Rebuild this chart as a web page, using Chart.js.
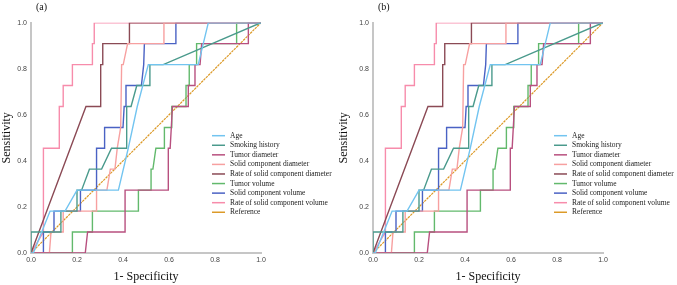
<!DOCTYPE html>
<html>
<head>
<meta charset="utf-8">
<script src="https://cdn.jsdelivr.net/npm/chart.js"></script>
<style>
  body { margin: 0; background: #fff; }
  #wrap { display: flex; width: 677px; height: 285px; }
</style>
</head>
<body>
<div id="wrap">
  <canvas id="chartA" width="337" height="285"></canvas>
  <canvas id="chartB" width="340" height="285"></canvas>
</div>
<script>
// ROC curves, 1 - specificity (x) vs sensitivity (y)
const xTicks = [0, 0.2, 0.4, 0.6, 0.8, 1.0];

const ageFpr = [0, 0.01, 0.083, 0.148, 0.2, 0.38, 0.423, 0.462, 0.51, 0.727, 0.771, 1];
const ageTpr = [0, 0, 0.182, 0.182, 0.273, 0.273, 0.455, 0.636, 0.818, 0.818, 1, 1];

const smokeFpr = [0, 0, 0.13, 0.13, 0.2, 0.2, 0.22, 0.254, 0.307, 0.35, 0.416, 0.416, 0.435, 0.46, 0.517, 0.517, 0.575, 1];
const smokeTpr = [0, 0.091, 0.091, 0.182, 0.182, 0.273, 0.273, 0.364, 0.364, 0.455, 0.455, 0.636, 0.636, 0.727, 0.727, 0.818, 0.818, 1];

const tumDiamFpr = [0, 0.236, 0.246, 0.409, 0.409, 0.597, 0.597, 0.605, 0.61, 0.615, 0.684, 0.684, 0.713, 0.713, 0.735, 0.742, 0.945, 0.945, 1];
const tumDiamTpr = [0, 0, 0.091, 0.091, 0.273, 0.273, 0.455, 0.455, 0.545, 0.636, 0.636, 0.727, 0.727, 0.818, 0.818, 0.909, 0.909, 1, 1];

const solDiamFpr = [0, 0.08, 0.087, 0.14, 0.14, 0.285, 0.285, 0.33, 0.345, 0.365, 0.375, 0.39, 0.394, 0.401, 0.42, 0.578, 0.578, 1];
const solDiamTpr = [0, 0, 0.091, 0.091, 0.182, 0.182, 0.273, 0.273, 0.364, 0.364, 0.455, 0.545, 0.818, 0.818, 0.909, 0.909, 1, 1];

const rateDiamFpr = [0, 0.239, 0.303, 0.303, 0.312, 0.312, 0.428, 0.428, 1];
const rateDiamTpr = [0, 0.636, 0.636, 0.818, 0.818, 0.909, 0.909, 1, 1];

const tumVolFpr = [0, 0.18, 0.18, 0.267, 0.267, 0.467, 0.467, 0.522, 0.522, 0.53, 0.543, 0.58, 0.58, 0.612, 0.612, 0.674, 0.674, 0.688, 0.688, 0.72, 0.72, 0.894, 0.894, 1];
const tumVolTpr = [0, 0, 0.091, 0.091, 0.182, 0.182, 0.273, 0.273, 0.364, 0.364, 0.455, 0.455, 0.545, 0.545, 0.636, 0.636, 0.727, 0.727, 0.818, 0.818, 0.909, 0.909, 1, 1];

const solVolFpr = [0, 0.054, 0.054, 0.1, 0.1, 0.215, 0.215, 0.285, 0.285, 0.32, 0.32, 0.4, 0.405, 0.413, 0.413, 0.48, 0.49, 0.493, 0.63, 0.63, 1];
const solVolTpr = [0, 0, 0.091, 0.091, 0.182, 0.182, 0.273, 0.273, 0.455, 0.455, 0.545, 0.545, 0.636, 0.636, 0.727, 0.727, 0.818, 0.909, 0.909, 1, 1];

const rateVolFpr = [0, 0.054, 0.054, 0.123, 0.123, 0.14, 0.14, 0.18, 0.18, 0.267, 0.267, 0.275, 0.275, 1];
const rateVolTpr = [0, 0.091, 0.455, 0.455, 0.636, 0.636, 0.727, 0.727, 0.818, 0.818, 0.909, 0.909, 1, 1];

const refFpr = [0, 1];
const refTpr = [0, 1];

const labels = ['Age', 'Smoking history', 'Tumor diameter', 'Solid component diameter',
  'Rate of solid component diameter', 'Tumor volume', 'Solid component volume',
  'Rate of solid component volume', 'Reference'];
const colors = ['#72c4f0', '#4a9a8c', '#b8507f', '#f7a0a0', '#8b4a55', '#62b96c', '#4a62c4', '#f78cab', '#dc9a28'];
const fprs = [ageFpr, smokeFpr, tumDiamFpr, solDiamFpr, rateDiamFpr, tumVolFpr, solVolFpr, rateVolFpr, refFpr];
const tprs = [ageTpr, smokeTpr, tumDiamTpr, solDiamTpr, rateDiamTpr, tumVolTpr, solVolTpr, rateVolTpr, refTpr];

function zip(xs, ys) {
  return xs.map((x, i) => ({ x: x, y: ys[i] }));
}

const rocLegend = {
  id: 'rocLegend',
  afterDraw(chart, args, opts) {
    const { ctx, chartArea } = chart;
    ctx.save();
    ctx.textBaseline = 'middle';
    ctx.font = '7.5px "Liberation Serif"';
    chart.data.datasets.forEach((ds, i) => {
      const y = 135.7 + i * 9.57;
      const x0 = chartArea.left + 181;
      ctx.strokeStyle = ds.borderColor;
      ctx.lineWidth = 1.5;
      ctx.beginPath();
      ctx.moveTo(x0, y);
      ctx.lineTo(x0 + 13, y);
      ctx.stroke();
      ctx.fillStyle = '#222';
      ctx.fillText(ds.label, x0 + 18, y);
    });
    ctx.font = '10px "Liberation Serif"';
    ctx.fillStyle = '#111';
    ctx.fillText(opts.tag, chartArea.left + 5, 7);
    ctx.restore();
  }
};

function makeChart(id, tag, axisW, rightPad) {
  const datasets = labels.map((lab, i) => ({
    label: lab,
    data: zip(fprs[i], tprs[i]),
    borderColor: colors[i],
    borderWidth: i === 8 ? 1.2 : 1.4,
    borderDash: i === 8 ? [2.5, 0.8] : [],
    showLine: true,
    pointRadius: 0,
    tension: 0,
    fill: false
  }));
  return new Chart(document.getElementById(id), {
    type: 'scatter',
    data: { datasets: datasets },
    options: {
      responsive: false,
      animation: false,
      layout: { padding: { left: 0, top: 22.7, right: rightPad, bottom: 0 } },
      plugins: {
        legend: { display: false },
        tooltip: { enabled: false },
        rocLegend: { tag: tag }
      },
      scales: {
        x: {
          type: 'linear', min: 0, max: 1,
          afterBuildTicks: (s) => { s.ticks = xTicks.map(v => ({ value: v })); },
          afterFit: (s) => { s.height = 32; },
          grid: { display: false, drawTicks: false },
          border: { display: true, color: '#c6c6c6', width: 2 },
          ticks: {
            padding: 3, color: '#444',
            font: { family: 'Liberation Sans', size: 7 },
            callback: v => v.toFixed(1)
          },
          title: {
            display: true, text: '1- Specificity', color: '#111',
            font: { family: 'Liberation Serif', size: 12 },
            padding: { top: 0, bottom: 1 }
          }
        },
        y: {
          type: 'linear', min: 0, max: 1,
          afterBuildTicks: (s) => { s.ticks = xTicks.map(v => ({ value: v })); },
          afterFit: (s) => { s.width = axisW; },
          grid: { display: false, drawTicks: false },
          border: { display: true, color: '#c6c6c6', width: 2 },
          ticks: {
            padding: 4, color: '#444',
            font: { family: 'Liberation Sans', size: 7 },
            callback: v => v.toFixed(1)
          },
          title: {
            display: true, text: 'Sensitivity', color: '#111',
            font: { family: 'Liberation Serif', size: 12 },
            padding: { top: 0, bottom: 0 }
          }
        }
      }
    },
    plugins: [rocLegend]
  });
}

makeChart('chartA', '(a)', 31, 76);
makeChart('chartB', '(b)', 36, 74);
</script>
</body>
</html>
